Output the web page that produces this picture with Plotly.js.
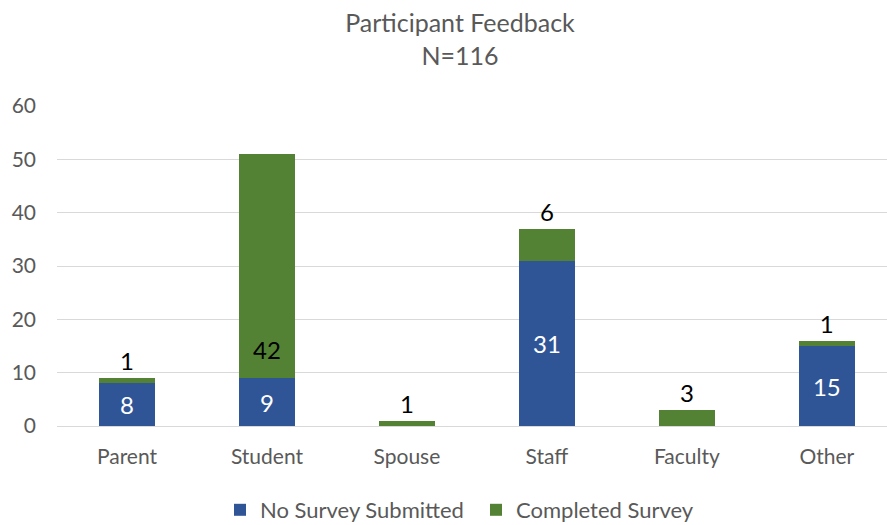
<!DOCTYPE html>
<html><head><meta charset="utf-8">
<script src="https://cdn.plot.ly/plotly-3.0.1.min.js"></script>
<style>html,body{margin:0;padding:0;background:#fff}#chart{width:887px;height:525px}</style>
</head><body><div id="chart"></div>
<script>
const categories = ['Parent', 'Student', 'Spouse', 'Staff', 'Faculty', 'Other'];
const noSurvey = [8, 9, 0, 31, 0, 15];
const completed = [1, 42, 1, 6, 3, 1];
const yTicks = [0, 10, 20, 30, 40, 50, 60];
const seriesNames = ['No Survey Submitted', 'Completed Survey'];
const titleText = 'Participant Feedback<br>N=116';

const FONT = 'Lato, "Open Sans", sans-serif';
const GREY = '#595959';
const LABEL_SIZE = 24;

// Large green segments get their label near the base (inside); small ones above the bar.
const greenInside = completed.map(v => v >= 10);

const traceBlue = {
  type: 'bar', name: seriesNames[0], x: categories, y: noSurvey,
  marker: {color: '#2F5597', line: {width: 0}},
  text: noSurvey.map(v => v ? String(v) : ''),
  textposition: 'inside', insidetextanchor: 'middle',
  textfont: {family: FONT, size: LABEL_SIZE, color: '#FFFFFF'},
  constraintext: 'none', hoverinfo: 'skip'
};
const traceGreen = {
  type: 'bar', name: seriesNames[1], x: categories, y: completed,
  marker: {color: '#548235', line: {width: 0}},
  text: completed.map((v, i) => greenInside[i] ? '' : String(v)),
  textposition: 'outside',
  textfont: {family: FONT, size: LABEL_SIZE, color: '#000000'},
  outsidetextfont: {family: FONT, size: LABEL_SIZE, color: '#000000'},
  cliponaxis: false, constraintext: 'none', hoverinfo: 'skip'
};

const annotations = [];
completed.forEach((v, i) => {
  if (greenInside[i]) {
    annotations.push({
      x: categories[i], y: noSurvey[i], xref: 'x', yref: 'y',
      text: String(v), showarrow: false, yanchor: 'bottom', yshift: 12,
      font: {family: FONT, size: LABEL_SIZE, color: '#000000'}
    });
  }
});

const layout = {
  width: 887, height: 525,
  margin: {l: 57, r: 0, t: 106, b: 99},
  paper_bgcolor: '#FFFFFF', plot_bgcolor: '#FFFFFF',
  barmode: 'stack', bargap: 0.6,
  title: {text: titleText, font: {family: FONT, size: 25, color: GREY},
          x: 0.5186, xanchor: 'center', xref: 'container',
          y: 1 - 32 / 525, yanchor: 'top', yref: 'container'},
  xaxis: {type: 'category', range: [-0.5, 5.43], showgrid: false, zeroline: false,
          showline: false, ticks: '', tickfont: {family: FONT, size: 21, color: GREY},
          ticklabelstandoff: 16, fixedrange: true},
  yaxis: {range: [0, 60], tickvals: yTicks, showgrid: true, gridcolor: '#D9D9D9', gridwidth: 1,
          zeroline: true, zerolinecolor: '#D9D9D9', zerolinewidth: 1, showline: false,
          ticks: '', tickfont: {family: FONT, size: 21, color: GREY},
          ticklabelstandoff: 20, fixedrange: true},
  annotations: annotations,
  showlegend: true,
  legend: {orientation: 'h', traceorder: 'normal', xref: 'container', yref: 'container',
           x: 220 / 887, xanchor: 'left', y: 15 / 525, yanchor: 'middle',
           entrywidth: 211, entrywidthmode: 'pixels',
           font: {family: FONT, size: 22, color: GREY}, bgcolor: 'rgba(0,0,0,0)'}
};

Plotly.newPlot('chart', [traceBlue, traceGreen], layout, {displayModeBar: false, staticPlot: true});
</script>
</body></html>
